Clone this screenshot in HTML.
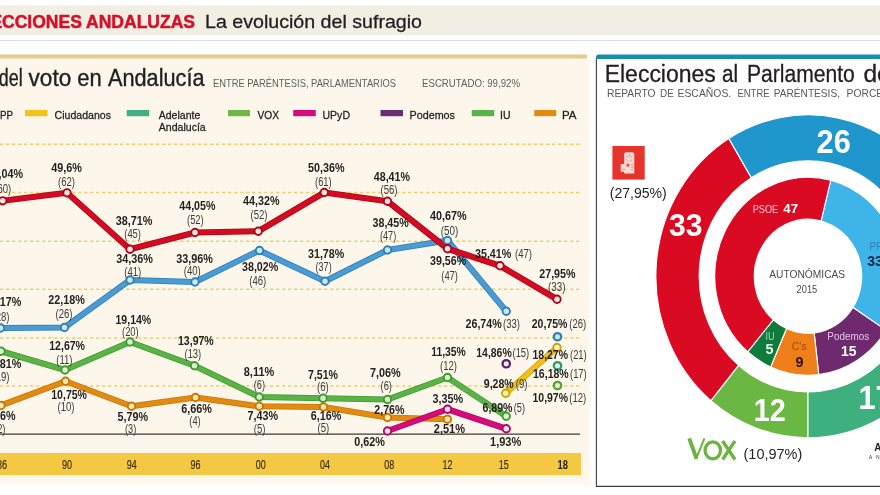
<!DOCTYPE html>
<html><head><meta charset="utf-8"><title>Elecciones andaluzas</title>
<style>html,body{margin:0;padding:0;background:#fff;}body{width:880px;height:495px;overflow:hidden;}svg{display:block;will-change:transform;font-family:"Liberation Sans",sans-serif;}</style></head>
<body>
<svg width="880" height="495" viewBox="0 0 880 495"><g opacity="0.999">
<defs><linearGradient id="fadeb" x1="0" x2="0" y1="0" y2="1"><stop offset="0" stop-color="#fcf7ea"/><stop offset="1" stop-color="#ffffff"/></linearGradient><linearGradient id="fade" x1="0" x2="1" y1="0" y2="0"><stop offset="0" stop-color="#fcf7ea"/><stop offset="1" stop-color="#ffffff"/></linearGradient></defs>
<rect x="0" y="0" width="880" height="495" fill="#ffffff"/>
<rect x="0" y="5.5" width="880" height="29.5" fill="#f3eee3"/>
<rect x="0" y="40" width="880" height="1" fill="#dcdcdc"/>
<rect x="0" y="54.5" width="587" height="427" fill="#fcf7ea"/>
<rect x="0" y="481.4" width="592" height="7" fill="url(#fadeb)"/>
<rect x="587" y="58.5" width="5" height="423" fill="url(#fade)"/>
<rect x="0" y="54.5" width="587" height="4" fill="#e8cb8c"/>
<rect x="596" y="55" width="290" height="431.5" fill="#ffffff"/>
<path d="M596.4 58 V486.4 H880" fill="none" stroke="#3c3c3c" stroke-width="1.1"/>
<path d="M596 59 V57 Q596 54.5 599 54.5 H880 V59 Z" fill="#1b8ea6"/>
<text x="195" y="27.5" font-size="17.5" fill="#d4112a" text-anchor="end" font-weight="700" textLength="227" lengthAdjust="spacingAndGlyphs" stroke="#d4112a" stroke-width="0.5">ELECCIONES ANDALUZAS</text>
<text x="205" y="27.5" font-size="18.5" fill="#231f20" textLength="217" lengthAdjust="spacingAndGlyphs" stroke="#231f20" stroke-width="0.3">La evolución del sufragio</text>
<text x="-1.2" y="86.3" font-size="24.8" fill="#231f20" textLength="23.8" lengthAdjust="spacingAndGlyphs" stroke="#231f20" stroke-width="0.4">del</text>
<text x="28.6" y="86.3" font-size="24.8" fill="#231f20" textLength="42.6" lengthAdjust="spacingAndGlyphs" stroke="#231f20" stroke-width="0.4">voto</text>
<text x="77.2" y="86.3" font-size="24.8" fill="#231f20" textLength="24.4" lengthAdjust="spacingAndGlyphs" stroke="#231f20" stroke-width="0.4">en</text>
<text x="108" y="86.3" font-size="24.8" fill="#231f20" textLength="96.5" lengthAdjust="spacingAndGlyphs" stroke="#231f20" stroke-width="0.4">Andalucía</text>
<text x="213" y="87" font-size="10.5" fill="#5e5e5e" textLength="183" lengthAdjust="spacingAndGlyphs">ENTRE PARÉNTESIS, PARLAMENTARIOS</text>
<text x="422" y="87" font-size="10.5" fill="#5e5e5e" textLength="98" lengthAdjust="spacingAndGlyphs">ESCRUTADO: 99,92%</text>
<rect x="-30" y="110" width="22" height="6.2" fill="#4a9bd4"/>
<text x="0" y="118.8" font-size="11.7" fill="#231f20" textLength="13" lengthAdjust="spacingAndGlyphs" stroke="#231f20" stroke-width="0.3">PP</text>
<rect x="25" y="110" width="22.5" height="6.2" fill="#f3c31c"/>
<text x="54.5" y="118.8" font-size="11.7" fill="#231f20" textLength="56.5" lengthAdjust="spacingAndGlyphs" stroke="#231f20" stroke-width="0.3">Ciudadanos</text>
<rect x="126.75" y="110" width="22.5" height="6.2" fill="#3fb083"/>
<text x="158.75" y="118.8" font-size="11.7" fill="#231f20" textLength="41.5" lengthAdjust="spacingAndGlyphs" stroke="#231f20" stroke-width="0.3">Adelante</text>
<rect x="228" y="110" width="22" height="6.2" fill="#6db944"/>
<text x="257.5" y="118.8" font-size="11.7" fill="#231f20" textLength="21.5" lengthAdjust="spacingAndGlyphs" stroke="#231f20" stroke-width="0.3">VOX</text>
<rect x="293.25" y="110" width="22.5" height="6.2" fill="#d80b7d"/>
<text x="322.5" y="118.8" font-size="11.7" fill="#231f20" textLength="27.5" lengthAdjust="spacingAndGlyphs" stroke="#231f20" stroke-width="0.3">UPyD</text>
<rect x="380.5" y="110" width="22.5" height="6.2" fill="#6b2c75"/>
<text x="409.5" y="118.8" font-size="11.7" fill="#231f20" textLength="45.5" lengthAdjust="spacingAndGlyphs" stroke="#231f20" stroke-width="0.3">Podemos</text>
<rect x="471.75" y="110" width="22.5" height="6.2" fill="#5bb347"/>
<text x="500" y="118.8" font-size="11.7" fill="#231f20" textLength="10.5" lengthAdjust="spacingAndGlyphs" stroke="#231f20" stroke-width="0.3">IU</text>
<rect x="534.25" y="110" width="22.0" height="6.2" fill="#e28b13"/>
<text x="562" y="118.8" font-size="11.7" fill="#231f20" textLength="14.5" lengthAdjust="spacingAndGlyphs" stroke="#231f20" stroke-width="0.3">PA</text>
<text x="158.75" y="130.9" font-size="11.7" fill="#231f20" textLength="47" lengthAdjust="spacingAndGlyphs" stroke="#231f20" stroke-width="0.3">Andalucía</text>
<line x1="0" y1="144.25" x2="580" y2="144.25" stroke="#ead07a" stroke-width="1.4" stroke-dasharray="3.4 2.6"/>
<line x1="0" y1="192.5" x2="580" y2="192.5" stroke="#ead07a" stroke-width="1.4" stroke-dasharray="3.4 2.6"/>
<line x1="0" y1="241.25" x2="580" y2="241.25" stroke="#ead07a" stroke-width="1.4" stroke-dasharray="3.4 2.6"/>
<line x1="0" y1="289.25" x2="580" y2="289.25" stroke="#ead07a" stroke-width="1.4" stroke-dasharray="3.4 2.6"/>
<line x1="0" y1="338" x2="580" y2="338" stroke="#ead07a" stroke-width="1.4" stroke-dasharray="3.4 2.6"/>
<line x1="0" y1="386" x2="580" y2="386" stroke="#ead07a" stroke-width="1.4" stroke-dasharray="3.4 2.6"/>
<line x1="0" y1="434.2" x2="580" y2="434.2" stroke="#403a35" stroke-width="1.3"/>
<rect x="0" y="453" width="581" height="22" fill="#f4c843"/>
<path d="M1 405.5 L65.5 381.25 L131.5 406.25 L195.5 397.5 L259.25 406.25 L323.5 407 L387.5 417.5 L447.5 419.25" fill="none" stroke="#c87505" stroke-width="6.1" stroke-linejoin="round" stroke-linecap="round"/>
<path d="M1 405.5 L65.5 381.25 L131.5 406.25 L195.5 397.5 L259.25 406.25 L323.5 407 L387.5 417.5 L447.5 419.25" fill="none" stroke="#e28b13" stroke-width="4.5" stroke-linejoin="round" stroke-linecap="round"/>
<path d="M1 351.25 L65 370 L130 342 L194.5 365.75 L259.25 397 L323 398.25 L387.5 399.5 L447.5 377.5 L506.25 416.25" fill="none" stroke="#3f9a2f" stroke-width="6.1" stroke-linejoin="round" stroke-linecap="round"/>
<path d="M1 351.25 L65 370 L130 342 L194.5 365.75 L259.25 397 L323 398.25 L387.5 399.5 L447.5 377.5 L506.25 416.25" fill="none" stroke="#5bb347" stroke-width="4.5" stroke-linejoin="round" stroke-linecap="round"/>
<path d="M387.5 431 L447.5 409.25 L506.25 428.75" fill="none" stroke="#b00663" stroke-width="6.1" stroke-linejoin="round" stroke-linecap="round"/>
<path d="M387.5 431 L447.5 409.25 L506.25 428.75" fill="none" stroke="#d80b7d" stroke-width="4.5" stroke-linejoin="round" stroke-linecap="round"/>
<path d="M505.75 393.25 L557 347.5" fill="none" stroke="#cf9f00" stroke-width="6.1" stroke-linejoin="round" stroke-linecap="round"/>
<path d="M505.75 393.25 L557 347.5" fill="none" stroke="#f1bf1a" stroke-width="4.5" stroke-linejoin="round" stroke-linecap="round"/>
<path d="M0.5 328 L64.5 327.5 L130 280 L195 282 L259.5 250.5 L325 281.25 L387.5 250 L447.5 240.5 L506.25 311.25" fill="none" stroke="#2f7fb8" stroke-width="6.1" stroke-linejoin="round" stroke-linecap="round"/>
<path d="M0.5 328 L64.5 327.5 L130 280 L195 282 L259.5 250.5 L325 281.25 L387.5 250 L447.5 240.5 L506.25 311.25" fill="none" stroke="#4a9bd4" stroke-width="4.5" stroke-linejoin="round" stroke-linecap="round"/>
<path d="M2.7 200.8 L67 192.8 L130 249.25 L195 232.5 L258.25 231.25 L324.25 192.5 L387.5 201.25 L447.5 248.75 L500 265.75 L557 299.25" fill="none" stroke="#a9081a" stroke-width="6.1" stroke-linejoin="round" stroke-linecap="round"/>
<path d="M2.7 200.8 L67 192.8 L130 249.25 L195 232.5 L258.25 231.25 L324.25 192.5 L387.5 201.25 L447.5 248.75 L500 265.75 L557 299.25" fill="none" stroke="#d50b22" stroke-width="4.5" stroke-linejoin="round" stroke-linecap="round"/>
<circle cx="1" cy="405.5" r="3.7" fill="#fdecb8" stroke="#c87505" stroke-width="1.9"/>
<circle cx="65.5" cy="381.25" r="3.7" fill="#fdecb8" stroke="#c87505" stroke-width="1.9"/>
<circle cx="131.5" cy="406.25" r="3.7" fill="#fdecb8" stroke="#c87505" stroke-width="1.9"/>
<circle cx="195.5" cy="397.5" r="3.7" fill="#fdecb8" stroke="#c87505" stroke-width="1.9"/>
<circle cx="259.25" cy="406.25" r="3.7" fill="#fdecb8" stroke="#c87505" stroke-width="1.9"/>
<circle cx="323.5" cy="407" r="3.7" fill="#fdecb8" stroke="#c87505" stroke-width="1.9"/>
<circle cx="387.5" cy="417.5" r="3.7" fill="#fdecb8" stroke="#c87505" stroke-width="1.9"/>
<circle cx="447.5" cy="419.25" r="3.7" fill="#fdecb8" stroke="#c87505" stroke-width="1.9"/>
<circle cx="1" cy="351.25" r="3.7" fill="#dcf3d2" stroke="#3f9a2f" stroke-width="1.9"/>
<circle cx="65" cy="370" r="3.7" fill="#dcf3d2" stroke="#3f9a2f" stroke-width="1.9"/>
<circle cx="130" cy="342" r="3.7" fill="#dcf3d2" stroke="#3f9a2f" stroke-width="1.9"/>
<circle cx="194.5" cy="365.75" r="3.7" fill="#dcf3d2" stroke="#3f9a2f" stroke-width="1.9"/>
<circle cx="259.25" cy="397" r="3.7" fill="#dcf3d2" stroke="#3f9a2f" stroke-width="1.9"/>
<circle cx="323" cy="398.25" r="3.7" fill="#dcf3d2" stroke="#3f9a2f" stroke-width="1.9"/>
<circle cx="387.5" cy="399.5" r="3.7" fill="#dcf3d2" stroke="#3f9a2f" stroke-width="1.9"/>
<circle cx="447.5" cy="377.5" r="3.7" fill="#dcf3d2" stroke="#3f9a2f" stroke-width="1.9"/>
<circle cx="506.25" cy="416.25" r="3.7" fill="#dcf3d2" stroke="#3f9a2f" stroke-width="1.9"/>
<circle cx="387.5" cy="431" r="3.7" fill="#fbe2ef" stroke="#b00663" stroke-width="1.9"/>
<circle cx="447.5" cy="409.25" r="3.7" fill="#fbe2ef" stroke="#b00663" stroke-width="1.9"/>
<circle cx="506.25" cy="428.75" r="3.7" fill="#fbe2ef" stroke="#b00663" stroke-width="1.9"/>
<circle cx="505.75" cy="393.25" r="3.7" fill="#fdf4c4" stroke="#cf9f00" stroke-width="1.9"/>
<circle cx="557" cy="347.5" r="3.7" fill="#fdf4c4" stroke="#cf9f00" stroke-width="1.9"/>
<circle cx="0.5" cy="328" r="3.7" fill="#c9eafb" stroke="#2f7fb8" stroke-width="1.9"/>
<circle cx="64.5" cy="327.5" r="3.7" fill="#c9eafb" stroke="#2f7fb8" stroke-width="1.9"/>
<circle cx="130" cy="280" r="3.7" fill="#c9eafb" stroke="#2f7fb8" stroke-width="1.9"/>
<circle cx="195" cy="282" r="3.7" fill="#c9eafb" stroke="#2f7fb8" stroke-width="1.9"/>
<circle cx="259.5" cy="250.5" r="3.7" fill="#c9eafb" stroke="#2f7fb8" stroke-width="1.9"/>
<circle cx="325" cy="281.25" r="3.7" fill="#c9eafb" stroke="#2f7fb8" stroke-width="1.9"/>
<circle cx="387.5" cy="250" r="3.7" fill="#c9eafb" stroke="#2f7fb8" stroke-width="1.9"/>
<circle cx="447.5" cy="240.5" r="3.7" fill="#c9eafb" stroke="#2f7fb8" stroke-width="1.9"/>
<circle cx="506.25" cy="311.25" r="3.7" fill="#c9eafb" stroke="#2f7fb8" stroke-width="1.9"/>
<circle cx="2.7" cy="200.8" r="3.7" fill="#fde6e2" stroke="#a9081a" stroke-width="1.9"/>
<circle cx="67" cy="192.8" r="3.7" fill="#fde6e2" stroke="#a9081a" stroke-width="1.9"/>
<circle cx="130" cy="249.25" r="3.7" fill="#fde6e2" stroke="#a9081a" stroke-width="1.9"/>
<circle cx="195" cy="232.5" r="3.7" fill="#fde6e2" stroke="#a9081a" stroke-width="1.9"/>
<circle cx="258.25" cy="231.25" r="3.7" fill="#fde6e2" stroke="#a9081a" stroke-width="1.9"/>
<circle cx="324.25" cy="192.5" r="3.7" fill="#fde6e2" stroke="#a9081a" stroke-width="1.9"/>
<circle cx="387.5" cy="201.25" r="3.7" fill="#fde6e2" stroke="#a9081a" stroke-width="1.9"/>
<circle cx="447.5" cy="248.75" r="3.7" fill="#fde6e2" stroke="#a9081a" stroke-width="1.9"/>
<circle cx="500" cy="265.75" r="3.7" fill="#fde6e2" stroke="#a9081a" stroke-width="1.9"/>
<circle cx="557" cy="299.25" r="3.7" fill="#fde6e2" stroke="#a9081a" stroke-width="1.9"/>
<circle cx="506.25" cy="363.75" r="3.7" fill="#f6eaf8" stroke="#5a2266" stroke-width="2.3"/>
<circle cx="557.5" cy="336.75" r="3.7" fill="#c9eafb" stroke="#2f7fb8" stroke-width="2.3"/>
<circle cx="557.5" cy="365.75" r="3.7" fill="#dcf4e8" stroke="#2f9a70" stroke-width="2.3"/>
<circle cx="557.5" cy="385.5" r="3.7" fill="#e2f4d4" stroke="#58a332" stroke-width="2.3"/>
<text x="-13.5" y="178" font-size="12.2" fill="#231f20" font-weight="700" textLength="36.5" lengthAdjust="spacingAndGlyphs">47,04%</text>
<text x="-5.75" y="192.5" font-size="12" fill="#3a3a3a" textLength="17.0" lengthAdjust="spacingAndGlyphs">(60)</text>
<text x="51.3" y="172" font-size="12.2" fill="#231f20" font-weight="700" textLength="30.7" lengthAdjust="spacingAndGlyphs">49,6%</text>
<text x="58" y="185.5" font-size="12" fill="#3a3a3a" textLength="17" lengthAdjust="spacingAndGlyphs">(62)</text>
<text x="115.75" y="224.5" font-size="12.2" fill="#231f20" font-weight="700" textLength="36.75" lengthAdjust="spacingAndGlyphs">38,71%</text>
<text x="124.25" y="238.25" font-size="12" fill="#3a3a3a" textLength="16.75" lengthAdjust="spacingAndGlyphs">(45)</text>
<text x="179.25" y="210" font-size="12.2" fill="#231f20" font-weight="700" textLength="36.25" lengthAdjust="spacingAndGlyphs">44,05%</text>
<text x="187" y="223.75" font-size="12" fill="#3a3a3a" textLength="16.75" lengthAdjust="spacingAndGlyphs">(52)</text>
<text x="243" y="205" font-size="12.2" fill="#231f20" font-weight="700" textLength="36.5" lengthAdjust="spacingAndGlyphs">44,32%</text>
<text x="250.5" y="219.25" font-size="12" fill="#3a3a3a" textLength="17.0" lengthAdjust="spacingAndGlyphs">(52)</text>
<text x="308" y="171.75" font-size="12.2" fill="#231f20" font-weight="700" textLength="36.5" lengthAdjust="spacingAndGlyphs">50,36%</text>
<text x="315" y="185.5" font-size="12" fill="#3a3a3a" textLength="16.75" lengthAdjust="spacingAndGlyphs">(61)</text>
<text x="373.75" y="180.75" font-size="12.2" fill="#231f20" font-weight="700" textLength="36.25" lengthAdjust="spacingAndGlyphs">48,41%</text>
<text x="380.5" y="194.25" font-size="12" fill="#3a3a3a" textLength="17.0" lengthAdjust="spacingAndGlyphs">(56)</text>
<text x="430" y="265" font-size="12.2" fill="#231f20" font-weight="700" textLength="36.25" lengthAdjust="spacingAndGlyphs">39,56%</text>
<text x="441.25" y="280" font-size="12" fill="#3a3a3a" textLength="16.75" lengthAdjust="spacingAndGlyphs">(47)</text>
<text x="475" y="257.5" font-size="12.2" fill="#231f20" font-weight="700" textLength="36.25" lengthAdjust="spacingAndGlyphs">35,41%</text>
<text x="515" y="257.5" font-size="12" fill="#3a3a3a" textLength="17" lengthAdjust="spacingAndGlyphs">(47)</text>
<text x="539.25" y="278.25" font-size="12.2" fill="#231f20" font-weight="700" textLength="36.25" lengthAdjust="spacingAndGlyphs">27,95%</text>
<text x="548" y="290.75" font-size="12" fill="#3a3a3a" textLength="17.5" lengthAdjust="spacingAndGlyphs">(33)</text>
<text x="-15.25" y="306.25" font-size="12.2" fill="#231f20" font-weight="700" textLength="36.5" lengthAdjust="spacingAndGlyphs">22,17%</text>
<text x="-7.5" y="320.5" font-size="12" fill="#3a3a3a" textLength="17.0" lengthAdjust="spacingAndGlyphs">(28)</text>
<text x="48.25" y="303.75" font-size="12.2" fill="#231f20" font-weight="700" textLength="36.75" lengthAdjust="spacingAndGlyphs">22,18%</text>
<text x="55.5" y="318" font-size="12" fill="#3a3a3a" textLength="17.0" lengthAdjust="spacingAndGlyphs">(26)</text>
<text x="116.25" y="263" font-size="12.2" fill="#231f20" font-weight="700" textLength="36.75" lengthAdjust="spacingAndGlyphs">34,36%</text>
<text x="124.25" y="276.25" font-size="12" fill="#3a3a3a" textLength="17.0" lengthAdjust="spacingAndGlyphs">(41)</text>
<text x="176.25" y="262.5" font-size="12.2" fill="#231f20" font-weight="700" textLength="36.75" lengthAdjust="spacingAndGlyphs">33,96%</text>
<text x="183.75" y="275" font-size="12" fill="#3a3a3a" textLength="17.0" lengthAdjust="spacingAndGlyphs">(40)</text>
<text x="242" y="271.25" font-size="12.2" fill="#231f20" font-weight="700" textLength="36.25" lengthAdjust="spacingAndGlyphs">38,02%</text>
<text x="249.25" y="284.5" font-size="12" fill="#3a3a3a" textLength="17.0" lengthAdjust="spacingAndGlyphs">(46)</text>
<text x="308" y="257.5" font-size="12.2" fill="#231f20" font-weight="700" textLength="36.25" lengthAdjust="spacingAndGlyphs">31,78%</text>
<text x="315.5" y="271.25" font-size="12" fill="#3a3a3a" textLength="16.25" lengthAdjust="spacingAndGlyphs">(37)</text>
<text x="372.5" y="227" font-size="12.2" fill="#231f20" font-weight="700" textLength="36.25" lengthAdjust="spacingAndGlyphs">38,45%</text>
<text x="380" y="240" font-size="12" fill="#3a3a3a" textLength="16.25" lengthAdjust="spacingAndGlyphs">(47)</text>
<text x="430" y="220" font-size="12.2" fill="#231f20" font-weight="700" textLength="36.75" lengthAdjust="spacingAndGlyphs">40,67%</text>
<text x="440.75" y="234.5" font-size="12" fill="#3a3a3a" textLength="17.5" lengthAdjust="spacingAndGlyphs">(50)</text>
<text x="465.5" y="328" font-size="12.2" fill="#231f20" font-weight="700" textLength="36.25" lengthAdjust="spacingAndGlyphs">26,74%</text>
<text x="503" y="328" font-size="12" fill="#3a3a3a" textLength="17" lengthAdjust="spacingAndGlyphs">(33)</text>
<text x="531.75" y="328" font-size="12.2" fill="#231f20" font-weight="700" textLength="35.75" lengthAdjust="spacingAndGlyphs">20,75%</text>
<text x="569.25" y="328" font-size="12" fill="#3a3a3a" textLength="17.0" lengthAdjust="spacingAndGlyphs">(26)</text>
<text x="-15.25" y="368.25" font-size="12.2" fill="#231f20" font-weight="700" textLength="36.5" lengthAdjust="spacingAndGlyphs">17,81%</text>
<text x="-7.5" y="381.25" font-size="12" fill="#3a3a3a" textLength="17.0" lengthAdjust="spacingAndGlyphs">(19)</text>
<text x="49.25" y="350" font-size="12.2" fill="#231f20" font-weight="700" textLength="35.75" lengthAdjust="spacingAndGlyphs">12,67%</text>
<text x="56.25" y="363.5" font-size="12" fill="#3a3a3a" textLength="16.25" lengthAdjust="spacingAndGlyphs">(11)</text>
<text x="115.5" y="323.75" font-size="12.2" fill="#231f20" font-weight="700" textLength="35.75" lengthAdjust="spacingAndGlyphs">19,14%</text>
<text x="122" y="336.25" font-size="12" fill="#3a3a3a" textLength="16.75" lengthAdjust="spacingAndGlyphs">(20)</text>
<text x="178" y="344.5" font-size="12.2" fill="#231f20" font-weight="700" textLength="35.75" lengthAdjust="spacingAndGlyphs">13,97%</text>
<text x="184.5" y="357.5" font-size="12" fill="#3a3a3a" textLength="16.75" lengthAdjust="spacingAndGlyphs">(13)</text>
<text x="243.75" y="376.25" font-size="12.2" fill="#231f20" font-weight="700" textLength="30.5" lengthAdjust="spacingAndGlyphs">8,11%</text>
<text x="253.75" y="388.75" font-size="12" fill="#3a3a3a" textLength="11.25" lengthAdjust="spacingAndGlyphs">(6)</text>
<text x="308" y="378.75" font-size="12.2" fill="#231f20" font-weight="700" textLength="30" lengthAdjust="spacingAndGlyphs">7,51%</text>
<text x="317" y="391.25" font-size="12" fill="#3a3a3a" textLength="11.75" lengthAdjust="spacingAndGlyphs">(6)</text>
<text x="370" y="377" font-size="12.2" fill="#231f20" font-weight="700" textLength="30.75" lengthAdjust="spacingAndGlyphs">7,06%</text>
<text x="380.5" y="390" font-size="12" fill="#3a3a3a" textLength="11.5" lengthAdjust="spacingAndGlyphs">(6)</text>
<text x="431.25" y="355.75" font-size="12.2" fill="#231f20" font-weight="700" textLength="34.5" lengthAdjust="spacingAndGlyphs">11,35%</text>
<text x="440" y="370" font-size="12" fill="#3a3a3a" textLength="17" lengthAdjust="spacingAndGlyphs">(12)</text>
<text x="482.5" y="411.75" font-size="12.2" fill="#231f20" font-weight="700" textLength="30.0" lengthAdjust="spacingAndGlyphs">6,89%</text>
<text x="513.75" y="411.75" font-size="12" fill="#3a3a3a" textLength="11.25" lengthAdjust="spacingAndGlyphs">(5)</text>
<text x="-15" y="420" font-size="12.2" fill="#231f20" font-weight="700" textLength="30.5" lengthAdjust="spacingAndGlyphs">5,86%</text>
<text x="-6" y="432.5" font-size="12" fill="#3a3a3a" textLength="11.5" lengthAdjust="spacingAndGlyphs">(2)</text>
<text x="51.25" y="398.75" font-size="12.2" fill="#231f20" font-weight="700" textLength="35.75" lengthAdjust="spacingAndGlyphs">10,75%</text>
<text x="57.5" y="411.25" font-size="12" fill="#3a3a3a" textLength="17.0" lengthAdjust="spacingAndGlyphs">(10)</text>
<text x="117.5" y="421.25" font-size="12.2" fill="#231f20" font-weight="700" textLength="30.5" lengthAdjust="spacingAndGlyphs">5,79%</text>
<text x="125" y="433" font-size="12" fill="#3a3a3a" textLength="11.25" lengthAdjust="spacingAndGlyphs">(3)</text>
<text x="181.25" y="412.5" font-size="12.2" fill="#231f20" font-weight="700" textLength="30.75" lengthAdjust="spacingAndGlyphs">6,66%</text>
<text x="189.25" y="425" font-size="12" fill="#3a3a3a" textLength="11.5" lengthAdjust="spacingAndGlyphs">(4)</text>
<text x="247.5" y="420" font-size="12.2" fill="#231f20" font-weight="700" textLength="30.5" lengthAdjust="spacingAndGlyphs">7,43%</text>
<text x="253.75" y="432.5" font-size="12" fill="#3a3a3a" textLength="11.75" lengthAdjust="spacingAndGlyphs">(5)</text>
<text x="310.75" y="420" font-size="12.2" fill="#231f20" font-weight="700" textLength="30.5" lengthAdjust="spacingAndGlyphs">6,16%</text>
<text x="317.5" y="432" font-size="12" fill="#3a3a3a" textLength="11.75" lengthAdjust="spacingAndGlyphs">(5)</text>
<text x="374.25" y="414.25" font-size="12.2" fill="#231f20" font-weight="700" textLength="30.25" lengthAdjust="spacingAndGlyphs">2,76%</text>
<text x="433.75" y="433" font-size="12.2" fill="#231f20" font-weight="700" textLength="31.25" lengthAdjust="spacingAndGlyphs">2,51%</text>
<text x="354.25" y="445.5" font-size="12.2" fill="#231f20" font-weight="700" textLength="30.75" lengthAdjust="spacingAndGlyphs">0,62%</text>
<text x="432.5" y="402.5" font-size="12.2" fill="#231f20" font-weight="700" textLength="30.75" lengthAdjust="spacingAndGlyphs">3,35%</text>
<text x="490" y="445.5" font-size="12.2" fill="#231f20" font-weight="700" textLength="31.25" lengthAdjust="spacingAndGlyphs">1,93%</text>
<text x="476.25" y="357" font-size="12.2" fill="#231f20" font-weight="700" textLength="35.5" lengthAdjust="spacingAndGlyphs">14,86%</text>
<text x="512.5" y="357" font-size="12" fill="#3a3a3a" textLength="16.75" lengthAdjust="spacingAndGlyphs">(15)</text>
<text x="483.75" y="387.5" font-size="12.2" fill="#231f20" font-weight="700" textLength="30.0" lengthAdjust="spacingAndGlyphs">9,28%</text>
<text x="515.75" y="387.5" font-size="12" fill="#3a3a3a" textLength="11.75" lengthAdjust="spacingAndGlyphs">(9)</text>
<text x="532.5" y="358.75" font-size="12.2" fill="#231f20" font-weight="700" textLength="35.5" lengthAdjust="spacingAndGlyphs">18,27%</text>
<text x="570" y="358.75" font-size="12" fill="#3a3a3a" textLength="16.75" lengthAdjust="spacingAndGlyphs">(21)</text>
<text x="533" y="378.25" font-size="12.2" fill="#231f20" font-weight="700" textLength="35.75" lengthAdjust="spacingAndGlyphs">16,18%</text>
<text x="570" y="378.25" font-size="12" fill="#3a3a3a" textLength="16.75" lengthAdjust="spacingAndGlyphs">(17)</text>
<text x="532.5" y="401.75" font-size="12.2" fill="#231f20" font-weight="700" textLength="35.5" lengthAdjust="spacingAndGlyphs">10,97%</text>
<text x="569.25" y="401.75" font-size="12" fill="#3a3a3a" textLength="17.0" lengthAdjust="spacingAndGlyphs">(12)</text>
<text x="-3" y="469" font-size="12.2" fill="#3b3018" textLength="10" lengthAdjust="spacingAndGlyphs" stroke="#3b3018" stroke-width="0.2">86</text>
<text x="62" y="469" font-size="12.2" fill="#3b3018" textLength="10" lengthAdjust="spacingAndGlyphs" stroke="#3b3018" stroke-width="0.2">90</text>
<text x="126.75" y="469" font-size="12.2" fill="#3b3018" textLength="10" lengthAdjust="spacingAndGlyphs" stroke="#3b3018" stroke-width="0.2">94</text>
<text x="190.5" y="469" font-size="12.2" fill="#3b3018" textLength="10" lengthAdjust="spacingAndGlyphs" stroke="#3b3018" stroke-width="0.2">96</text>
<text x="255.75" y="469" font-size="12.2" fill="#3b3018" textLength="10" lengthAdjust="spacingAndGlyphs" stroke="#3b3018" stroke-width="0.2">00</text>
<text x="320" y="469" font-size="12.2" fill="#3b3018" textLength="10" lengthAdjust="spacingAndGlyphs" stroke="#3b3018" stroke-width="0.2">04</text>
<text x="384.25" y="469" font-size="12.2" fill="#3b3018" textLength="10" lengthAdjust="spacingAndGlyphs" stroke="#3b3018" stroke-width="0.2">08</text>
<text x="442.5" y="469" font-size="12.2" fill="#3b3018" textLength="10" lengthAdjust="spacingAndGlyphs" stroke="#3b3018" stroke-width="0.2">12</text>
<text x="498.75" y="469" font-size="12.2" fill="#3b3018" textLength="10" lengthAdjust="spacingAndGlyphs" stroke="#3b3018" stroke-width="0.2">15</text>
<text x="557.6" y="469" font-size="12.3" fill="#231f20" font-weight="700" textLength="10.4" lengthAdjust="spacingAndGlyphs">18</text>
<text x="604.6999999999999" y="81.5" font-size="23" fill="#231f20" textLength="111.1" lengthAdjust="spacingAndGlyphs" stroke="#231f20" stroke-width="0.3">Elecciones</text>
<text x="721.9" y="81.5" font-size="23" fill="#231f20" textLength="16.1" lengthAdjust="spacingAndGlyphs" stroke="#231f20" stroke-width="0.3">al</text>
<text x="746.9" y="81.5" font-size="23" fill="#231f20" textLength="107.9" lengthAdjust="spacingAndGlyphs" stroke="#231f20" stroke-width="0.3">Parlamento</text>
<text x="863.4" y="81.5" font-size="23" fill="#231f20" textLength="27.4" lengthAdjust="spacingAndGlyphs" stroke="#231f20" stroke-width="0.3">de</text>
<text x="607" y="96.8" font-size="11" fill="#585858" textLength="48.5" lengthAdjust="spacingAndGlyphs">REPARTO</text>
<text x="660" y="96.8" font-size="11" fill="#585858" textLength="13.75" lengthAdjust="spacingAndGlyphs">DE</text>
<text x="677.5" y="96.8" font-size="11" fill="#585858" textLength="53.75" lengthAdjust="spacingAndGlyphs">ESCAÑOS.</text>
<text x="737.5" y="96.8" font-size="11" fill="#585858" textLength="32.0" lengthAdjust="spacingAndGlyphs">ENTRE</text>
<text x="773.75" y="96.8" font-size="11" fill="#585858" textLength="66.25" lengthAdjust="spacingAndGlyphs">PARÉNTESIS,</text>
<text x="846.6" y="96.8" font-size="11" fill="#585858" textLength="68.4" lengthAdjust="spacingAndGlyphs">PORCENTAJE</text>
<rect x="612.4" y="146" width="32.3" height="33.6" fill="#e6332b"/>
<path d="M624.2 154.2 Q624.2 152.2 626.2 152.2 H632.3 Q634.3 152.2 634.3 154.2 V173.4 H624.2 V171.8 H620.7 V164 H624.2 Z" fill="#fbdcd4"/>
<g fill="none" stroke="#e5392f" stroke-width="0.55" stroke-opacity="0.85"><path d="M626.2 155.2 L628 157.6 M632.4 155 L630.4 157.8 M626.6 159.4 L628.6 161.6 M632 159.2 L630.2 161.8 M629.3 154 V156.4 M630.8 164.6 H633.2 M630.8 167.2 H633.2 M630.6 169.8 H633 M622.2 169.3 H625.4"/><rect x="626.6" y="163.8" width="2.6" height="2.8" fill="#e5392f" fill-opacity="0.9" stroke="none"/></g>
<text x="609.8" y="198" font-size="14.8" fill="#231f20" textLength="57" lengthAdjust="spacingAndGlyphs">(27,95%)</text>
<g transform="translate(808 276.3) scale(0.942 1)">
<path d="M0.00 161.50 A161.5 161.5 0 0 1 -103.02 124.38 L-73.67 88.95 A115.5 115.5 0 0 0 0.00 115.50 Z" fill="#6bb744" stroke="#ffffff" stroke-width="1.2"/>
<path d="M-103.02 124.38 A161.5 161.5 0 0 1 -84.09 -137.88 L-60.14 -98.61 A115.5 115.5 0 0 0 -73.67 88.95 Z" fill="#da0a22" stroke="#ffffff" stroke-width="1.2"/>
<path d="M-84.09 -137.88 A161.5 161.5 0 0 1 131.47 -93.79 L94.02 -67.08 A115.5 115.5 0 0 0 -60.14 -98.61 Z" fill="#1f97cd" stroke="#ffffff" stroke-width="1.2"/>
<path d="M131.47 -93.79 A161.5 161.5 0 0 1 134.12 89.97 L95.92 64.34 A115.5 115.5 0 0 0 94.02 -67.08 Z" fill="#f28a1d" stroke="#ffffff" stroke-width="1.2"/>
<path d="M134.12 89.97 A161.5 161.5 0 0 1 0.00 161.50 L0.00 115.50 A115.5 115.5 0 0 0 95.92 64.34 Z" fill="#3eb07e" stroke="#ffffff" stroke-width="1.2"/>
<path d="M24.12 -96.02 A99 99 0 0 1 82.93 54.06 L47.75 31.13 A57 57 0 0 0 13.89 -55.28 Z" fill="#3eb4e9" stroke="#ffffff" stroke-width="1.2"/>
<path d="M82.93 54.06 A99 99 0 0 1 11.38 98.34 L6.55 56.62 A57 57 0 0 0 47.75 31.13 Z" fill="#6f2a6f" stroke="#ffffff" stroke-width="1.2"/>
<path d="M11.38 98.34 A99 99 0 0 1 -39.63 90.72 L-22.82 52.23 A57 57 0 0 0 6.55 56.62 Z" fill="#ee7f1a" stroke="#ffffff" stroke-width="1.2"/>
<path d="M-39.63 90.72 A99 99 0 0 1 -64.03 75.50 L-36.87 43.47 A57 57 0 0 0 -22.82 52.23 Z" fill="#0f7b3c" stroke="#ffffff" stroke-width="1.2"/>
<path d="M-64.03 75.50 A99 99 0 0 1 24.12 -96.02 L13.89 -55.28 A57 57 0 0 0 -36.87 43.47 Z" fill="#da0a22" stroke="#ffffff" stroke-width="1.2"/>
</g>
<text x="669" y="236.3" font-size="32" fill="#ffffff" font-weight="700" textLength="33.5" lengthAdjust="spacingAndGlyphs">33</text>
<text x="816.6" y="152.9" font-size="33.8" fill="#ffffff" font-weight="700" textLength="34.2" lengthAdjust="spacingAndGlyphs">26</text>
<text x="753.75" y="420.5" font-size="31.5" fill="#ffffff" font-weight="700" textLength="32" lengthAdjust="spacingAndGlyphs">12</text>
<text x="858.6" y="408.8" font-size="33" fill="#ffffff" font-weight="700" textLength="34" lengthAdjust="spacingAndGlyphs">17</text>
<text x="752.7" y="213.4" font-size="11" fill="#f7c9cc" textLength="25.5" lengthAdjust="spacingAndGlyphs">PSOE</text>
<text x="783.3" y="213.4" font-size="13" fill="#ffffff" font-weight="700" textLength="14.7" lengthAdjust="spacingAndGlyphs">47</text>
<text x="869.5" y="249.9" font-size="11" fill="#2e80b0" textLength="13" lengthAdjust="spacingAndGlyphs">PP</text>
<text x="867.3" y="266.3" font-size="14.5" fill="#0d2744" font-weight="700" textLength="15.5" lengthAdjust="spacingAndGlyphs">33</text>
<text x="807.2" y="278.1" font-size="11.4" fill="#4a4a4a" text-anchor="middle" textLength="76" lengthAdjust="spacingAndGlyphs">AUTONÓMICAS</text>
<text x="806.9" y="293.1" font-size="11" fill="#4a4a4a" text-anchor="middle" textLength="20.6" lengthAdjust="spacingAndGlyphs">2015</text>
<text x="765.5" y="340" font-size="10.5" fill="#a9d9b5" textLength="9" lengthAdjust="spacingAndGlyphs">IU</text>
<text x="765.5" y="353.6" font-size="14" fill="#e9fbe9" font-weight="700" textLength="8" lengthAdjust="spacingAndGlyphs">5</text>
<text x="791.8" y="350.4" font-size="10.5" fill="#9c4a0a" textLength="14.6" lengthAdjust="spacingAndGlyphs">C's</text>
<text x="795.5" y="366.7" font-size="14" fill="#2a1208" font-weight="700" textLength="8" lengthAdjust="spacingAndGlyphs">9</text>
<text x="827.3" y="340" font-size="10.5" fill="#e2c6e6" textLength="41.8" lengthAdjust="spacingAndGlyphs">Podemos</text>
<text x="840.9" y="355.8" font-size="14" fill="#ffffff" font-weight="700" textLength="15.5" lengthAdjust="spacingAndGlyphs">15</text>
<g fill="none" stroke="#6cb33f" stroke-linecap="butt"><path d="M689.2 438.4 L696.6 458.8" stroke-width="3.9"/><path d="M696 459.2 L704.4 438.4" stroke-width="2"/><ellipse cx="712.8" cy="450.3" rx="7.7" ry="8.5" stroke-width="3.3"/><path d="M722.6 441 L735 459.5 M735 441 L722.6 459.5" stroke-width="3.3"/></g>
<text x="743.5" y="458.8" font-size="15" fill="#231f20" textLength="58.8" lengthAdjust="spacingAndGlyphs">(10,97%)</text>
<text x="874.2" y="450.8" font-size="10" fill="#231f20" font-weight="700">ADELANTE</text>
<text x="869" y="458.6" font-size="4.6" fill="#231f20" letter-spacing="1.6">A N D A L U C Í A</text>
</g></svg>
</body></html>
